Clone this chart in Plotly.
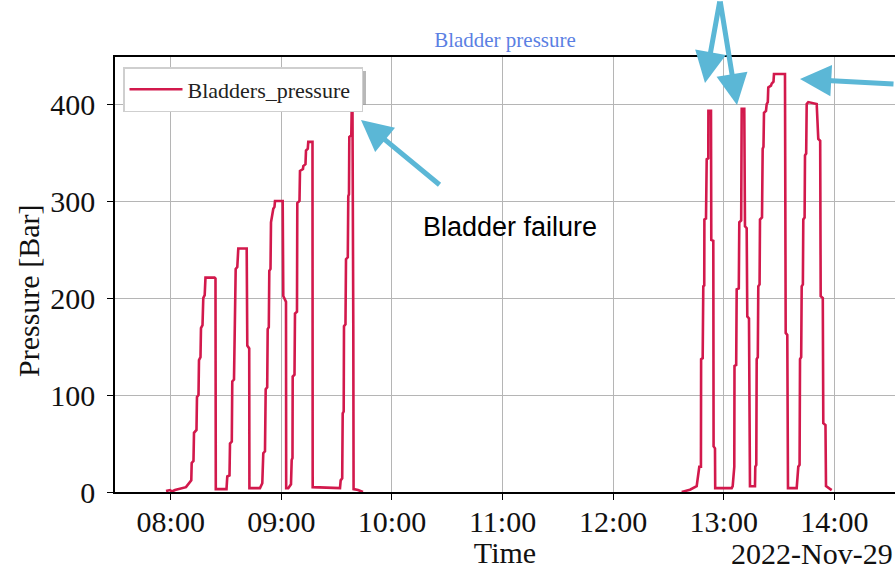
import pandas as pd
import plotly.graph_objects as go

# ---- data: minutes after 08:00 on 2022-11-29, pressure in bar (None = gap) ----
minutes = [
    # cycle 1
    -2.6, -0.43, 0.65, 2.28, 8.25, 10.14, 11.12, 11.34, 12.31, 12.59, 13.94, 14.21,
    15.03, 15.30, 16.11, 16.38, 17.20, 17.63, 18.39, 18.82, 23.71, 24.25, 24.41, 30.22,
    # cycle 2
    30.65, 31.85, 32.12, 33.09, 33.36, 34.29, 34.83, 35.21, 36.08, 36.62, 41.18, 41.50,
    42.55, 42.65, 48.39,
    # cycle 3
    49.64, 50.18, 51.10, 51.48, 52.30, 52.57, 53.17, 53.44, 54.09, 54.36, 54.90, 55.61,
    56.26, 56.53, 60.71, 61.03, 62.50, 62.60, 63.74,
    # cycle 4
    65.21, 65.59, 66.02, 66.13, 67.11, 67.38, 68.46, 68.63, 69.82, 70.09, 71.72, 71.88,
    73.07, 73.35, 74.32, 74.59, 76.87, 76.98, 91.79,
    # cycle 5
    92.17, 92.99, 93.26, 93.80, 93.96, 94.77, 95.05, 96.02, 96.29, 96.67, 96.84, 97.92,
    98.14, 98.57, 99.01, 99.17, 101.56, 104.27,
    None,
    # cycle A
    277.16, 281.66, 285.30, 286.71, 287.60, 287.70, 288.55, 288.88, 289.40, 289.48,
    290.35, 290.73, 291.58, 291.65, 293.06, 293.22, 294.31, 294.47, 295.23, 295.34, 304.29,
    # cycle B
    304.83, 305.70, 305.81, 306.73, 307.00, 308.14, 308.41, 309.44, 309.71, 311.12,
    311.50, 312.42, 312.75, 313.67, 314.21, 316.93,
    # cycle C
    317.09, 317.63, 317.85, 318.45, 318.72, 319.42, 319.64, 320.73, 321.10, 321.54,
    321.81, 322.90, 323.27, 323.87, 324.14, 325.61, 325.99, 326.96, 327.23, 333.20,
    333.58, 334.45, 334.83, 339.55,
    # cycle D
    340.42, 341.12, 341.35, 341.99, 342.26, 342.91, 343.13, 343.84, 344.06, 344.70,
    344.98, 345.84, 350.40, 351.27, 352.30, 352.57, 353.71, 353.98, 355.17, 355.45, 358.54,
]

pressure = [
    # cycle 1
    1, 2, 0.5, 2, 5, 10, 12, 30, 32, 61, 64, 98,
    100, 136, 139, 169, 172, 200, 203, 221, 221, 220, 3, 3,
    # cycle 2
    16, 17, 50, 52, 114, 116, 177, 230, 232, 251, 251, 151,
    148, 4, 4,
    # cycle 3
    9, 40, 42, 106, 108, 168, 170, 228, 230, 278, 283, 292,
    294, 300, 300, 202, 196, 4, 4,
    # cycle 4
    8, 33, 35, 119, 121, 184, 186, 298, 300, 331, 333, 336,
    338, 352, 354, 361, 361, 5, 4,
    # cycle 5
    12, 14, 81, 83, 171, 173, 240, 242, 305, 307, 366, 368,
    393, 393, 167, 3, 2, 0,
    None,
    # cycle A
    0, 2.4, 6, 26, 26, 137, 138, 212, 213, 281,
    282, 343, 344, 393, 393, 260, 259, 47, 45, 4, 4,
    # cycle B
    6, 26, 130, 131, 209, 210, 278, 280, 395, 395,
    274, 272, 181, 179, 6, 6,
    # cycle C
    26, 28, 137, 139, 212, 214, 281, 283, 354, 356,
    391, 393, 400, 402, 417, 419, 421, 423, 431, 431,
    164, 162, 4, 4,
    # cycle D
    26, 28, 137, 139, 212, 214, 281, 283, 347, 349,
    400, 402, 400, 364, 362, 202, 200, 71, 69, 6, 2,
]

date_label = "2022-Nov-29"
series_name = "Bladders_pressure"
x_ticks = ["08:00", "09:00", "10:00", "11:00", "12:00", "13:00", "14:00"]

base = pd.Timestamp("2022-11-29 08:00:00")
times = [base + pd.Timedelta(minutes=m) if m is not None else None for m in minutes]
tick_vals = [pd.Timestamp("2022-11-29 " + t) for t in x_ticks]

# ---- pixel helpers for the plot area (l=115, r=895, top=57, bottom=492) ----
L, R, T, B = 115, 895, 57, 492
def px(x):
    return (x - L) / (R - L)
def py(y):
    return (B - y) / (B - T)

SERIF = "Liberation Serif"
RED = "#d2194c"
ARROW = "#5bb7d6"

fig = go.Figure()
fig.add_trace(go.Scatter(
    x=times, y=pressure, mode="lines", name=series_name + "\u00a0",
    line=dict(color=RED, width=2.6), connectgaps=False,
))

fig.update_layout(
    width=895, height=569,
    margin=dict(l=L, r=895 - R, t=T, b=569 - B),
    paper_bgcolor="white", plot_bgcolor="white",
    font=dict(family=SERIF, color="#111111"),
    title=dict(text="Bladder pressure", x=0.5, xref="paper", xanchor="center",
               y=1 - 40 / 569, yanchor="middle",
               font=dict(family=SERIF, size=21, color="#5b7fe3")),
    showlegend=True,
    legend=dict(x=px(123), y=py(67), xanchor="left", yanchor="top",
                bgcolor="white", bordercolor="#cfcfcf", borderwidth=1.5,
                font=dict(family=SERIF, size=22, color="#222222"),
                itemwidth=53, tracegroupgap=0),
)

fig.update_xaxes(
    type="date",
    range=["2022-11-29 07:29:44", "2022-11-29 14:32:53"],
    tickvals=tick_vals, ticktext=x_ticks,
    ticks="outside", ticklen=6, tickwidth=1.3, tickcolor="black",
    tickfont=dict(family=SERIF, size=30, color="#111111"),
    ticklabelstandoff=-4,
    showgrid=True, gridcolor="#b5b5b5", gridwidth=1.2,
    showline=True, linecolor="black", linewidth=1.6, mirror=True,
    zeroline=False,
    title=dict(text="Time", font=dict(family=SERIF, size=30, color="#111111"), standoff=8),
)
fig.update_yaxes(
    range=[0, 448.5],
    tickvals=[0, 100, 200, 300, 400],
    ticks="outside", ticklen=6, tickwidth=1.3, tickcolor="black",
    tickfont=dict(family=SERIF, size=30, color="#111111"),
    ticklabelstandoff=6,
    showgrid=True, gridcolor="#b5b5b5", gridwidth=1.2,
    showline=True, linecolor="black", linewidth=1.6, mirror=False,
    zeroline=False,
)

# legend shadow
fig.add_shape(type="rect", xref="paper", yref="paper",
              x0=px(127), x1=px(366), y0=py(105), y1=py(71),
              fillcolor="#9a9a9a", line=dict(width=0), layer="above", opacity=0.7)

# y-axis title (placed like the reference)
fig.add_annotation(text="Pressure [Bar]", textangle=-90, xref="paper", yref="paper",
                   x=px(28), y=py(291), xanchor="center", yanchor="middle",
                   showarrow=False, font=dict(family=SERIF, size=30, color="#111111"))
# date offset label
fig.add_annotation(text=date_label, xref="paper", yref="paper",
                   x=px(895), y=py(553), xanchor="right", yanchor="middle",
                   showarrow=False, font=dict(family=SERIF, size=30, color="#111111"))
# "Bladder failure" note
fig.add_annotation(text="Bladder failure", xref="paper", yref="paper",
                   x=px(510), y=py(227), xanchor="center", yanchor="middle",
                   showarrow=False, font=dict(family="Liberation Sans", size=27, color="black"))

# arrows: (head_x, head_y, tail_x, tail_y) in pixels
arrows = [(361, 120, 441, 186), (705, 83, 720, -5), (737, 105, 720, -5), (800, 79, 905, 84)]
for hx, hy, tx, ty in arrows:
    fig.add_annotation(text="", xref="paper", yref="paper", x=px(hx), y=py(hy),
                       ax=tx - hx, ay=ty - hy, axref="pixel", ayref="pixel",
                       showarrow=True, arrowhead=2, arrowsize=1.25, arrowwidth=5,
                       arrowcolor=ARROW, standoff=0)

fig.write_html("out.html")
